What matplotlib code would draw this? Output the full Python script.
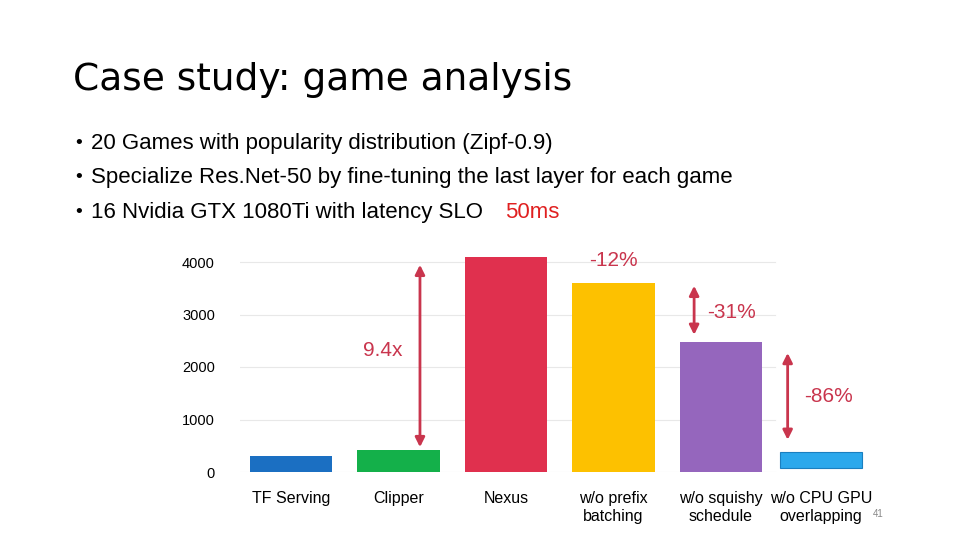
import matplotlib
matplotlib.use("Agg")
import matplotlib.pyplot as plt

categories = ["TF Serving", "Clipper", "Nexus", "w/o prefix\nbatching", "w/o squishy\nschedule", "w/o CPU GPU\noverlapping"]
values = [300, 420, 4090, 3600, 2480, 380]
colors = ["#1b6fc2", "#14b04a", "#e0304e", "#fdc100", "#9566bd", "#2ba8ec"]
yticks = [0, 1000, 2000, 3000, 4000]

fig = plt.figure(figsize=(9.6, 5.4), dpi=100)
W, H = 960, 540
fig.text(73/W, 1-80/H, "Case study: game analysis", fontsize=27, family="DejaVu Sans", va="center")
bullets = ["20 Games with popularity distribution (Zipf-0.9)",
           "Specialize Res.Net-50 by fine-tuning the last layer for each game",
           "16 Nvidia GTX 1080Ti with latency SLO "]
for i, b in enumerate(bullets):
    y = 1-(143+35*i)/H
    fig.text(75/W, y, "•", fontsize=14, family="Liberation Sans", va="center")
    fig.text(91/W, y, b, fontsize=16, family="Liberation Sans", va="center")
fig.text(505/W, 1-213/H, "50ms", fontsize=16, family="Liberation Sans", va="center", color="#e02020")

ymax = 4200
ax = fig.add_axes([240/W, 1-472/H, 630/W, ymax*0.0525/H])
ax.set_ylim(0, ymax)
ax.set_xlim(-0.474, 5.386)
for s in ax.spines.values():
    s.set_visible(False)
ax.set_yticks(yticks)
ax.set_yticklabels([str(v) for v in yticks], fontsize=10.5, family="Liberation Sans")
ax.tick_params(length=0, pad=18)
xpos = [0, 1, 2, 3, 4, 4.93]
ax.set_xticks(xpos)
ax.set_xticklabels(categories, fontsize=11.5, family="Liberation Sans", va="top")
ax.tick_params(axis="x", pad=14)
for v in yticks:
    ax.plot([-0.474, 4.5], [v, v], color="#e8e8e8", lw=0.8, zorder=0)
bars = ax.bar(xpos, values, width=0.77, color=colors, zorder=2)
bars[5].set_edgecolor("#1a7fc0"); bars[5].set_linewidth(0.8)
bars[5].set_y(70); bars[5].set_height(values[5] - 70 + 10)

ac = "#c9354d"
def arrow(x, y0, y1):
    ax.annotate("", xy=(x, y1), xytext=(x, y0),
                arrowprops=dict(arrowstyle="<|-|>", color=ac, lw=2, mutation_scale=14), zorder=3)
arrow(1.2, values[1], 4000)
arrow(3.75, values[3], values[4] + 80)
arrow(4.62, 2320, 560)
kw = dict(fontsize=15, family="Liberation Sans", color=ac, ha="center", va="center")
ax.text(0.85, 2310, "9.4x", **kw)
ax.text(3.0, 4020, "-12%", **kw)
ax.text(4.1, 3030, "-31%", **kw)
ax.text(5.0, 1430, "-86%", **kw)
fig.text(873/W, 1-514/H, "41", fontsize=7, color="#888888", family="Liberation Sans", va="center")
fig.savefig("out.png", dpi=100)
